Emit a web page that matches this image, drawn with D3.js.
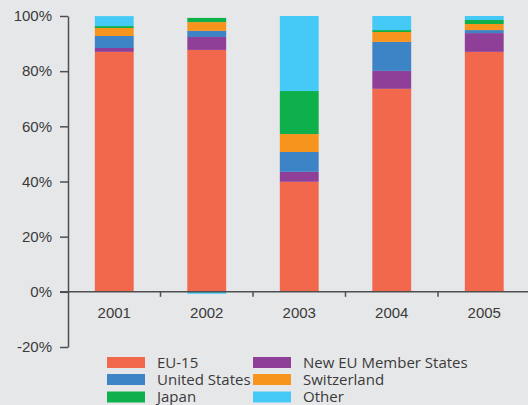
<!DOCTYPE html>
<html>
<head>
<meta charset="utf-8">
<script src="https://cdn.jsdelivr.net/npm/d3@7/dist/d3.min.js"></script>
<style>
  html, body { margin: 0; padding: 0; background: #e6e7e9; }
  svg { display: block; font-family: "Open Sans", "Noto Sans", sans-serif; }
</style>
</head>
<body>
<svg id="chart" width="528" height="405"></svg>
<script>
// Share of each origin, per year (percent)
const years = ["2001", "2002", "2003", "2004", "2005"];
const seriesNames = ["EU-15", "New EU Member States", "United States", "Switzerland", "Japan", "Other"];
const eu15        = [87.0, 87.7, 39.9, 73.6, 87.0];
const newEU       = [1.4, 4.7, 3.6, 6.5, 6.8];
const unitedStates= [4.35, 2.2, 7.2, 10.5, 1.1];
const switzerland = [2.9, 3.2, 6.5, 3.6, 2.2];
const japan       = [0.7, 1.5, 15.6, 0.7, 1.45];
const other       = [3.6, -0.7, 27.2, 5.1, 1.45];
const yTicks = [-20, 0, 20, 40, 60, 80, 100];
const legendOrder = ["EU-15", "New EU Member States", "United States", "Switzerland", "Japan", "Other"];

const colors = {
  "EU-15": "#f2684c",
  "New EU Member States": "#8f3f97",
  "United States": "#3d84c6",
  "Switzerland": "#f7941e",
  "Japan": "#0db04b",
  "Other": "#45c9f6"
};

const valuesBySeries = {
  "EU-15": eu15,
  "New EU Member States": newEU,
  "United States": unitedStates,
  "Switzerland": switzerland,
  "Japan": japan,
  "Other": other
};

const rows = years.map((yr, i) => {
  const r = { year: yr };
  seriesNames.forEach(s => { r[s] = valuesBySeries[s][i]; });
  return r;
});

const svg = d3.select("#chart");
const axisColor = "#4f4f4f";
const textColor = "#3a3a3a";

const x = d3.scaleBand()
  .domain(years)
  .range([68, 530.5])
  .paddingInner(0.58)
  .paddingOuter(0.29);

const y = d3.scaleLinear()
  .domain([-20, 100])
  .range([347, 16]);

const stacked = d3.stack()
  .keys(seriesNames)
  .offset(d3.stackOffsetDiverging)(rows);

// Bars
svg.append("g")
  .selectAll("g")
  .data(stacked)
  .join("g")
  .attr("fill", d => colors[d.key])
  .selectAll("rect")
  .data(d => d)
  .join("rect")
  .attr("x", d => x(d.data.year))
  .attr("width", x.bandwidth())
  .attr("y", d => y(Math.max(d[0], d[1])))
  .attr("height", d => Math.abs(y(d[0]) - y(d[1])));

// Y axis
const yAxis = svg.append("g")
  .attr("transform", "translate(68,0)")
  .call(d3.axisLeft(y)
    .tickValues(yTicks)
    .tickFormat(d => d + "%")
    .tickSize(8)
    .tickSizeOuter(0)
    .tickPadding(8));
yAxis.select(".domain").attr("stroke", axisColor).attr("stroke-width", 1.5);
yAxis.selectAll(".tick line").attr("stroke", axisColor).attr("stroke-width", 1.5);
yAxis.selectAll(".tick text")
  .attr("fill", textColor)
  .style("font-size", "15px");

// X axis baseline and category labels
const xAxis = svg.append("g")
  .attr("transform", `translate(0,${y(0)})`)
  .call(d3.axisBottom(x).tickSize(0).tickSizeOuter(0).tickPadding(16));
xAxis.select(".domain").remove();
xAxis.selectAll(".tick text")
  .attr("fill", textColor)
  .style("font-size", "15px");

svg.append("line")
  .attr("x1", 60).attr("x2", 528)
  .attr("y1", y(0)).attr("y2", y(0))
  .attr("stroke", axisColor).attr("stroke-width", 1.5);

// Separator ticks between categories
const step = x.step();
const gapHalf = step * x.paddingInner() / 2;
svg.append("g")
  .selectAll("line")
  .data(years.slice(0, -1))
  .join("line")
  .attr("x1", d => x(d) + x.bandwidth() + gapHalf)
  .attr("x2", d => x(d) + x.bandwidth() + gapHalf)
  .attr("y1", y(0))
  .attr("y2", y(0) + 5)
  .attr("stroke", axisColor)
  .attr("stroke-width", 1.5);

// Legend: two columns, three rows
const legend = svg.append("g");
const cols = [107, 253];
const rowY = [362.5, 379.5, 397];
const legendItems = [
  ["EU-15", 0, 0], ["New EU Member States", 1, 0],
  ["United States", 0, 1], ["Switzerland", 1, 1],
  ["Japan", 0, 2], ["Other", 1, 2]
];
legendItems.forEach(([name, c, r]) => {
  const g = legend.append("g").attr("transform", `translate(${cols[c]},${rowY[r]})`);
  g.append("rect")
    .attr("x", 0).attr("y", -5.5)
    .attr("width", 38).attr("height", 11)
    .attr("fill", colors[name]);
  g.append("text")
    .attr("x", 50).attr("y", 0)
    .attr("dy", "0.35em")
    .attr("fill", textColor)
    .style("font-size", "15px")
    .text(name);
});
</script>
</body>
</html>
